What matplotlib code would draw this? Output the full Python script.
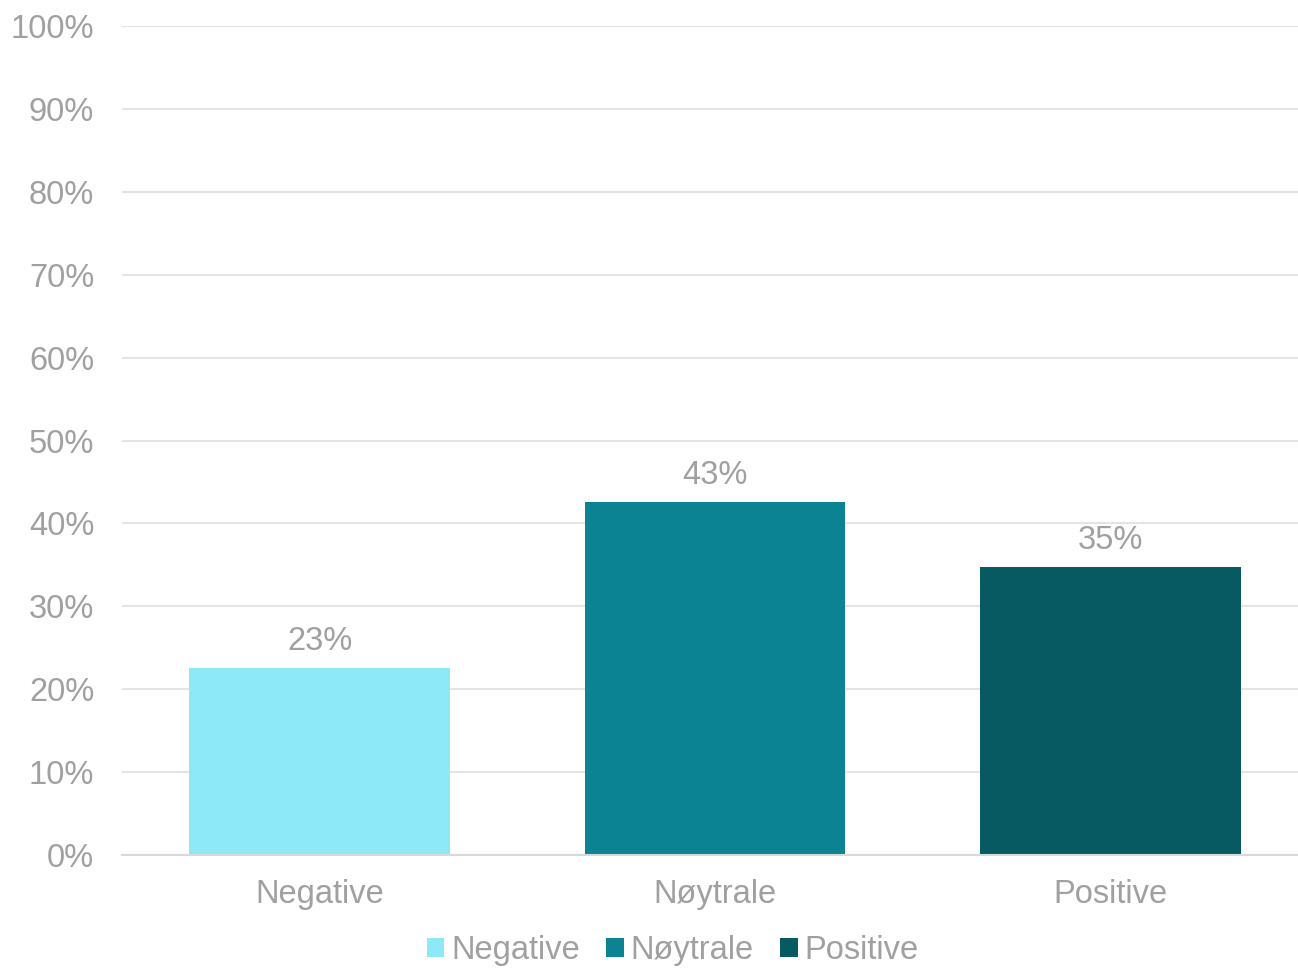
import matplotlib.pyplot as plt
from matplotlib.patches import Patch

# data
categories = ['Negative', 'Nøytrale', 'Positive']
shares = [22.6, 42.6, 34.7]
labels = ['23%', '43%', '35%']
colors = ['#8DE9F6', '#0B8392', '#085A62']

plt.rcParams['font.family'] = ['Liberation Sans', 'DejaVu Sans']
text_color = '#A0A0A0'
grid_color = '#E4E4E4'
fs = 23.5

fig = plt.figure(figsize=(12.98, 9.69), dpi=100)
ax = fig.add_axes([0.094, 0.1176, 0.906, 0.8556])

x = range(len(categories))
bars = ax.bar(x, shares, width=0.66, color=colors, zorder=3)

for bar, lab in zip(bars, labels):
    ax.annotate(lab, (bar.get_x() + bar.get_width() / 2, bar.get_height()),
                xytext=(0, 8), textcoords='offset points',
                ha='center', va='bottom', fontsize=fs, color=text_color)

ax.set_ylim(0, 100)
ax.set_xlim(-0.5, 2.475)
ax.set_yticks(range(0, 101, 10))
ax.set_yticklabels([f'{v}%' for v in range(0, 101, 10)])
ax.set_xticks(list(x))
ax.set_xticklabels(categories)
ax.tick_params(axis='y', length=0, pad=20, labelsize=fs, labelcolor=text_color)
ax.tick_params(axis='x', length=0, pad=17, labelsize=fs, labelcolor=text_color)

ax.grid(axis='y', color=grid_color, linewidth=1.5, zorder=0)
for side in ['top', 'right', 'left']:
    ax.spines[side].set_visible(False)
ax.spines['bottom'].set_color('#D9D9D9')
ax.spines['bottom'].set_linewidth(1.5)
ax.spines['bottom'].set_zorder(4)

handles = [Patch(facecolor=c, label=n) for c, n in zip(colors, categories)]
fig.legend(handles=handles, loc='center', bbox_to_anchor=(0.518, 0.019), ncol=3,
           frameon=False, fontsize=fs, labelcolor=text_color,
           handlelength=0.55, handleheight=0.55, handletextpad=0.2,
           columnspacing=0.8, borderpad=0)

fig.savefig('out.png', dpi=100)
